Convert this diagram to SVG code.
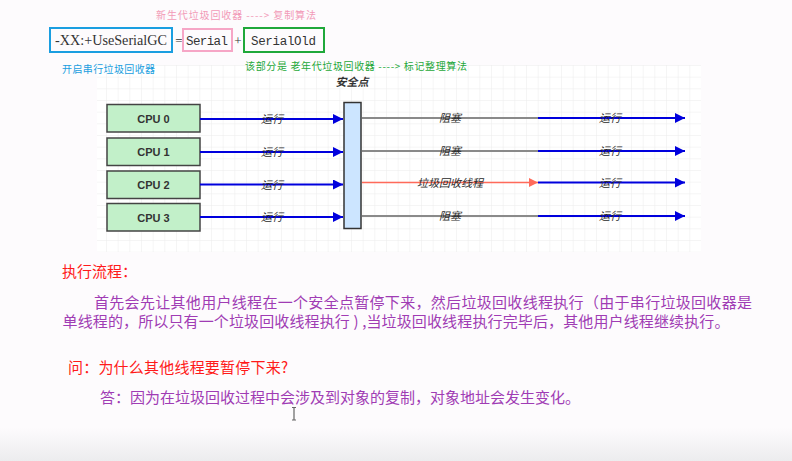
<svg xmlns="http://www.w3.org/2000/svg" width="792" height="461" viewBox="0 0 792 461">
<style>
.cjk{font-family:"Noto Sans CJK SC","Noto Sans",sans-serif}
.lbl{font-family:"Noto Sans CJK SC",sans-serif;font-size:11px;font-style:italic;fill:#2a2a2a;text-anchor:middle}
.cpu rect{fill:#c2f0c9;stroke:#444;stroke-width:1.5}
.cpu text{font-family:"Liberation Sans",Arial,sans-serif;font-weight:bold;font-size:11px;fill:#333;text-anchor:middle}
.run{stroke:#0000dd;stroke-width:2;fill:none}
.blk{stroke:#8a8a8a;stroke-width:2;fill:none}
.gc{stroke:#ff6a5a;stroke-width:1.5;fill:none}
.body{font-family:"Noto Sans CJK SC",sans-serif;font-size:15px;fill:#a03cb4}
.red{font-family:"Noto Sans CJK SC",sans-serif;font-size:15px;fill:#ff1a1a}
</style>
<defs>
<pattern id="grid" x="94.33" y="65" width="11.667" height="11.667" patternUnits="userSpaceOnUse">
<path d="M0 0H11.667M0 0V11.667" stroke="#ececec" stroke-width="1" fill="none"/>
</pattern>
<linearGradient id="fade" x1="0" y1="0" x2="0" y2="1">
<stop offset="0" stop-color="#fdfbfd"/>
<stop offset="1" stop-color="#ececee"/>
</linearGradient>
<marker id="ab" viewBox="0 0 10 10" refX="10" refY="5" markerWidth="6" markerHeight="5" markerUnits="strokeWidth" orient="auto">
<path d="M0 0L10 5L0 10z" fill="#0000dd"/>
</marker>
<marker id="ar" viewBox="0 0 10 10" refX="10" refY="5" markerWidth="7" markerHeight="6" markerUnits="strokeWidth" orient="auto">
<path d="M0 0L10 5L0 10z" fill="#ff6a5a"/>
</marker>
</defs>
<rect width="792" height="461" fill="#fdfbfd"/>
<rect x="0" y="428" width="792" height="33" fill="url(#fade)"/>
<rect x="97" y="65" width="604" height="187" fill="#ffffff"/>
<rect x="97" y="65" width="604" height="187" fill="url(#grid)"/>

<g id="header">
<text class="cjk" x="156" y="19" font-size="10" fill="#f29ab8" textLength="160">新生代垃圾回收器 ----&gt; 复制算法</text>
<rect x="50" y="28" width="122" height="24" fill="none" stroke="#1a9ee0" stroke-width="2"/>
<text x="55" y="45" font-family="Liberation Serif,serif" font-size="15" fill="#333" textLength="112" lengthAdjust="spacingAndGlyphs">-XX:+UseSerialGC</text>
<text x="179" y="45" font-family="Liberation Serif,serif" font-size="13" fill="#333" text-anchor="middle">=</text>
<rect x="183" y="29" width="49" height="22" fill="none" stroke="#f6a6c6" stroke-width="2"/>
<text x="186" y="45" font-family="Liberation Mono,monospace" font-size="12.5" fill="#333" textLength="42">Serial</text>
<text x="238" y="45" font-family="Liberation Serif,serif" font-size="13" fill="#333" text-anchor="middle">+</text>
<rect x="244" y="28" width="80" height="24" fill="none" stroke="#1fa83a" stroke-width="2"/>
<text x="251" y="45" font-family="Liberation Mono,monospace" font-size="12.5" fill="#333" textLength="65">SerialOld</text>
<text class="cjk" x="62" y="73" font-size="10" fill="#1a9ee0" textLength="93">开启串行垃圾回收器</text>
<text class="cjk" x="245" y="70" font-size="10" fill="#1fa83a" textLength="222">该部分是 老年代垃圾回收器 ----&gt; 标记整理算法</text>
</g>

<g id="cpu0" class="cpu"><rect x="107" y="104.5" width="93" height="27.5"/><text x="153.5" y="122.5">CPU 0</text></g>
<g id="cpu1" class="cpu"><rect x="107" y="138" width="93" height="27.5"/><text x="153.5" y="156">CPU 1</text></g>
<g id="cpu2" class="cpu"><rect x="107" y="171" width="93" height="27.5"/><text x="153.5" y="189">CPU 2</text></g>
<g id="cpu3" class="cpu"><rect x="107" y="203.5" width="93" height="27.5"/><text x="153.5" y="221.5">CPU 3</text></g>

<g id="safepoint">
<rect x="344" y="102.5" width="17" height="126" fill="#cce5ff" stroke="#333" stroke-width="1.5"/>
<text x="352" y="86" font-family="Noto Sans CJK SC,sans-serif" font-size="11" font-weight="bold" font-style="italic" fill="#333" text-anchor="middle">安全点</text>
</g>

<g id="connectors">
<path class="run" d="M200 119H343" marker-end="url(#ab)"/>
<path class="run" d="M200 152H343" marker-end="url(#ab)"/>
<path class="run" d="M200 184.5H343" marker-end="url(#ab)"/>
<path class="run" d="M200 217H343" marker-end="url(#ab)"/>
<path class="blk" d="M362 118H538"/>
<path class="blk" d="M362 151H538"/>
<path class="gc" d="M362 182.5H538" marker-end="url(#ar)"/>
<path class="blk" d="M362 216H538"/>
<path class="run" d="M538 118H685" marker-end="url(#ab)"/>
<path class="run" d="M538 151H685" marker-end="url(#ab)"/>
<path class="run" d="M538 182.5H685" marker-end="url(#ab)"/>
<path class="run" d="M538 216H685" marker-end="url(#ab)"/>
<text class="lbl" x="272" y="123">运行</text>
<text class="lbl" x="272" y="156">运行</text>
<text class="lbl" x="272" y="188.5">运行</text>
<text class="lbl" x="272" y="221">运行</text>
<text class="lbl" x="450" y="122">阻塞</text>
<text class="lbl" x="450" y="155">阻塞</text>
<text class="lbl" x="450" y="186.5">垃圾回收线程</text>
<text class="lbl" x="450" y="220">阻塞</text>
<text class="lbl" x="610" y="122">运行</text>
<text class="lbl" x="610" y="155">运行</text>
<text class="lbl" x="610" y="186.5">运行</text>
<text class="lbl" x="610" y="220">运行</text>
</g>

<g id="notes">
<text class="red" x="62" y="276.5">执行流程：</text>
<text class="body" x="94" y="307.5" textLength="658">首先会先让其他用户线程在一个安全点暂停下来，然后垃圾回收线程执行（由于串行垃圾回收器是</text>
<text class="body" x="62.5" y="327" textLength="667">单线程的，所以只有一个垃圾回收线程执行 ) ,当垃圾回收线程执行完毕后，其他用户线程继续执行。</text>
<text class="red" x="68" y="373" textLength="220">问：为什么其他线程要暂停下来?</text>
<text class="body" x="100" y="402.5" textLength="480">答：因为在垃圾回收过程中会涉及到对象的复制，对象地址会发生变化。</text>
<path d="M292 407.5h4M294 407.5v12.5M292 420h4" stroke="#666" stroke-width="1.2" fill="none"/>
</g>
</svg>
